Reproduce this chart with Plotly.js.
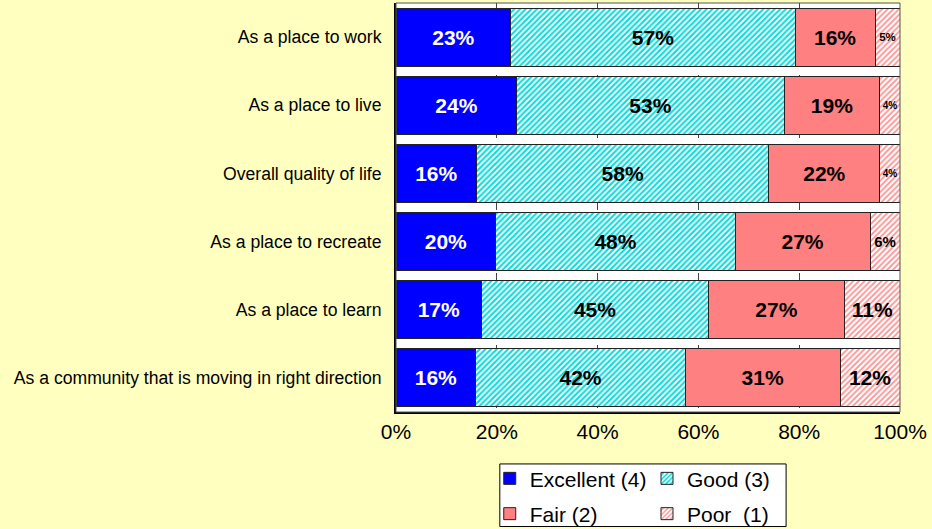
<!DOCTYPE html>
<html>
<head>
<meta charset="utf-8">
<script src="https://cdn.plot.ly/plotly-3.0.1.min.js"></script>
<style>html,body{margin:0;padding:0;background:#FFFFC0;}#chart{width:932px;height:529px;}</style>
</head>
<body>
<div id="chart"></div>
<script>
const categories = [
  "As a place to work",
  "As a place to live",
  "Overall quality of life",
  "As a place to recreate",
  "As a place to learn",
  "As a community that is moving in right direction"
];
const excellent = [23, 24, 16, 20, 17, 16];
const good      = [57, 53, 58, 48, 45, 42];
const fair      = [16, 19, 22, 27, 27, 31];
const poor      = [5, 4, 4, 6, 11, 12];
const seriesNames = ["Excellent (4)", "Good (3)", "Fair (2)", "Poor  (1)"];
const poorLabelSizes = [11.5, 10, 10, 15, 21, 21];

const FONT = "Liberation Sans, Arial, sans-serif";
const lineStyle = {color: "#222", width: 1};

function mk(name, vals, marker, textColor, sizes, legend, group) {
  return {
    type: "bar", orientation: "h", name: name,
    x: vals, y: categories,
    text: vals.map(v => v + "%"),
    textposition: "inside", insidetextanchor: "middle",
    constraintext: "none", textangle: 0,
    textfont: {family: FONT, color: textColor, size: sizes, weight: "bold"},
    hoverinfo: "skip",
    marker: Object.assign({line: lineStyle}, marker),
    legend: legend, legendgroup: group
  };
}

const traces = [
  mk(seriesNames[0], excellent, {color: "#0000FF"}, "#FFFFFF", 21, "legend", "g1"),
  mk(seriesNames[1], good, {color: "#FFFFFF", pattern: {shape: "/", fgcolor: "#00DDDD", bgcolor: "#FFFFFF", size: 4, solidity: 0.5}}, "#000000", 21, "legend2", "g2"),
  mk(seriesNames[2], fair, {color: "#FF8080"}, "#000000", 21, "legend", "g3"),
  mk(seriesNames[3], poor, {color: "#FFFFFF", pattern: {shape: "/", fgcolor: "#FF9090", bgcolor: "#FFFFFF", size: 4, solidity: 0.45}}, "#000000", poorLabelSizes, "legend2", "g4")
];

const legendCommon = {
  orientation: "v", xref: "paper", yref: "paper", xanchor: "left", yanchor: "top",
  bgcolor: "rgba(0,0,0,0)", borderwidth: 0,
  font: {family: FONT, size: 21, color: "#000"},
  itemwidth: 30, tracegroupgap: 5, traceorder: "grouped"
};

const layout = {
  width: 932, height: 529,
  margin: {l: 396, r: 32, t: 3, b: 117, autoexpand: false},
  paper_bgcolor: "#FFFFC0",
  plot_bgcolor: "#FFFFFF",
  barmode: "stack", barnorm: "percent", bargap: 0.15,
  font: {family: FONT, color: "#000"},
  xaxis: {
    range: [0, 100], dtick: 20, tick0: 0, ticksuffix: "%",
    tickfont: {family: FONT, size: 21, color: "#000"},
    showgrid: true, gridcolor: "#444", griddash: "dash", gridwidth: 1,
    showline: true, linecolor: "#000", linewidth: 2,
    zeroline: false, ticks: "", fixedrange: true
  },
  yaxis: {
    autorange: "reversed",
    tickfont: {family: FONT, size: 17.6, color: "#000"},
    showline: true, linecolor: "#000", linewidth: 2,
    ticks: "", ticklabelstandoff: 9, showgrid: false, fixedrange: true
  },
  shapes: [
    {type: "rect", xref: "paper", yref: "paper", x0: 0, x1: 1, y0: 0, y1: 1,
     line: {color: "#555", width: 1}, fillcolor: "rgba(0,0,0,0)", layer: "above"},
    {type: "rect", xref: "paper", yref: "paper", x0: 0.206, x1: 0.774, y0: -0.127, y1: -0.28,
     line: {color: "#000", width: 1}, fillcolor: "#FFFFFF", layer: "below"}
  ],
  legend: Object.assign({}, legendCommon, {x: 0.186, y: -0.113}),
  legend2: Object.assign({}, legendCommon, {x: 0.498, y: -0.113}),
  showlegend: true
};

Plotly.newPlot("chart", traces, layout, {displayModeBar: false, staticPlot: true});
</script>
</body>
</html>
